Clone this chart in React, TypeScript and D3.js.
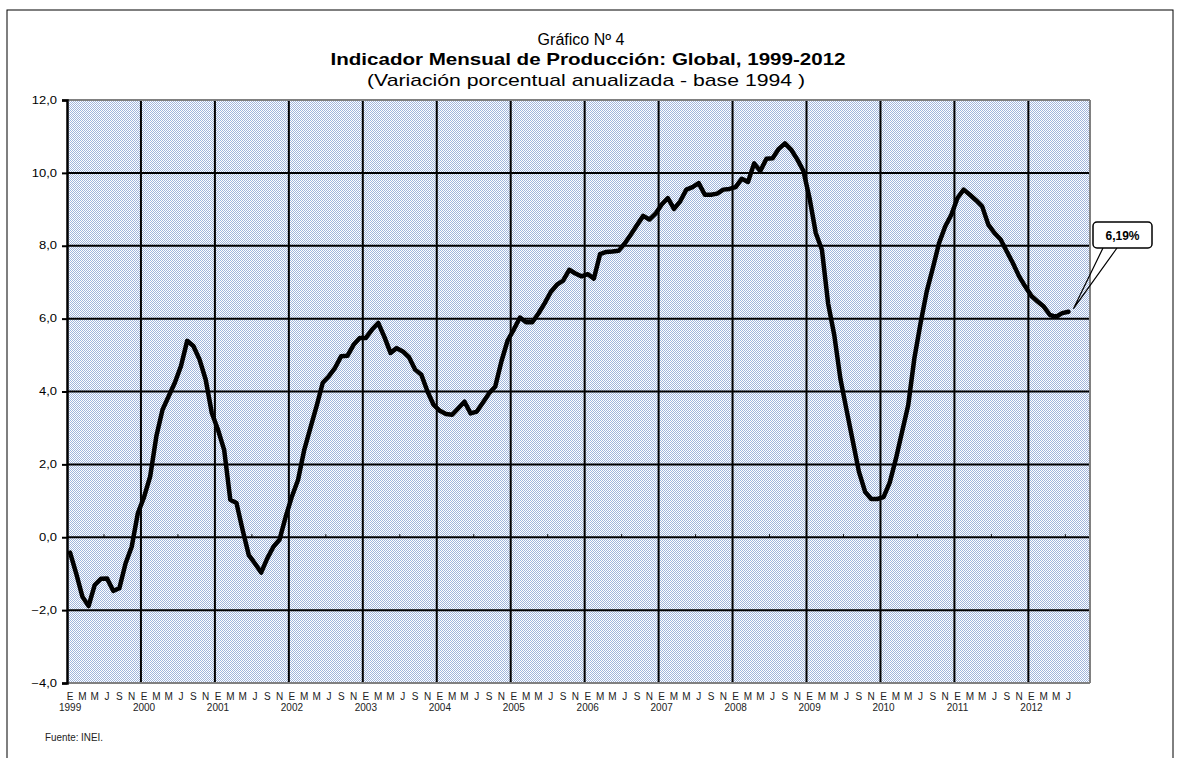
import React, { useEffect, useRef } from 'react';
import * as d3 from 'd3';

// Indicador Mensual de Producción (variación % anualizada), ene 1999 - jul 2012
const v1999 = [-0.42, -1.0, -1.63, -1.89, -1.31, -1.14, -1.13, -1.47, -1.4, -0.72, -0.26, 0.66];
const v2000 = [1.1, 1.67, 2.77, 3.5, 3.87, 4.24, 4.7, 5.39, 5.25, 4.88, 4.33, 3.41];
const v2001 = [2.95, 2.4, 1.03, 0.94, 0.2, -0.49, -0.72, -0.97, -0.58, -0.26, -0.06, 0.57];
const v2002 = [1.12, 1.58, 2.4, 3.0, 3.6, 4.24, 4.42, 4.65, 4.97, 4.98, 5.28, 5.47];
const v2003 = [5.47, 5.7, 5.88, 5.5, 5.06, 5.19, 5.1, 4.94, 4.6, 4.46, 4.0, 3.63];
const v2004 = [3.47, 3.38, 3.36, 3.54, 3.72, 3.4, 3.45, 3.7, 3.95, 4.14, 4.83, 5.4];
const v2005 = [5.7, 6.03, 5.9, 5.9, 6.14, 6.42, 6.73, 6.93, 7.04, 7.34, 7.24, 7.16];
const v2006 = [7.22, 7.1, 7.77, 7.83, 7.84, 7.86, 8.06, 8.31, 8.57, 8.82, 8.72, 8.88];
const v2007 = [9.13, 9.31, 9.01, 9.22, 9.54, 9.61, 9.72, 9.4, 9.4, 9.43, 9.54, 9.56];
const v2008 = [9.61, 9.84, 9.75, 10.26, 10.05, 10.39, 10.4, 10.66, 10.81, 10.64, 10.37, 10.05];
const v2009 = [9.3, 8.35, 7.89, 6.42, 5.55, 4.35, 3.49, 2.65, 1.8, 1.25, 1.05, 1.05];
const v2010 = [1.1, 1.5, 2.15, 2.89, 3.62, 4.91, 5.87, 6.74, 7.39, 8.07, 8.53, 8.85];
const v2011 = [9.31, 9.54, 9.4, 9.25, 9.08, 8.58, 8.35, 8.17, 7.84, 7.52, 7.16, 6.88];
const v2012 = [6.62, 6.47, 6.33, 6.1, 6.05, 6.15, 6.19];

const years = [1999, 2000, 2001, 2002, 2003, 2004, 2005, 2006, 2007, 2008, 2009, 2010, 2011, 2012];
const monthLetters = ['E', 'F', 'M', 'A', 'M', 'J', 'J', 'A', 'S', 'O', 'N', 'D'];
const yTicks = [-4, -2, 0, 2, 4, 6, 8, 10, 12];
const totalSlots = 166; // categorías del eje (incluye meses vacíos al final)
const lastLabel = '6,19%';

const series = [v1999, v2000, v2001, v2002, v2003, v2004, v2005, v2006, v2007, v2008, v2009, v2010, v2011, v2012].flat();

const W = 1181;
const H = 758;
const margin = { top: 100, right: 91, bottom: 75, left: 67 };

const App = () => {
    const svgRef = useRef(null);

    useEffect(() => {
        const svg = d3.select(svgRef.current);
        svg.selectAll('*').remove();

        const x = d3.scaleLinear().domain([0, totalSlots]).range([margin.left, W - margin.right]);
        const y = d3.scaleLinear().domain([-4, 12]).range([H - margin.bottom, margin.top]);
        const x0 = x(0), x1 = x(totalSlots), yTop = y(12), yBot = y(-4);

        // pattern del fondo (punteado azul)
        const defs = svg.append('defs');
        const pat = defs.append('pattern')
            .attr('id', 'dots').attr('width', 2).attr('height', 2)
            .attr('patternUnits', 'userSpaceOnUse');
        pat.append('rect').attr('width', 2).attr('height', 2).attr('fill', '#ffffff');
        pat.append('rect').attr('x', 0).attr('y', 0).attr('width', 1).attr('height', 1).attr('fill', '#9fb5dc');
        pat.append('rect').attr('x', 1).attr('y', 1).attr('width', 1).attr('height', 1).attr('fill', '#9fb5dc');

        // marco exterior
        svg.append('rect')
            .attr('x', 7).attr('y', 10).attr('width', 1166).attr('height', 760)
            .attr('fill', '#fff').attr('stroke', '#000').attr('stroke-width', 1);

        svg.append('rect')
            .attr('x', x0).attr('y', yTop).attr('width', x1 - x0).attr('height', yBot - yTop)
            .attr('fill', 'url(#dots)');

        // grilla horizontal
        svg.append('g').selectAll('line')
            .data(yTicks.filter(t => t > -4 && t < 12))
            .join('line')
            .attr('x1', x0).attr('x2', x1)
            .attr('y1', d => y(d)).attr('y2', d => y(d))
            .attr('stroke', '#000').attr('stroke-width', 2);

        // grilla vertical (inicio de cada año)
        svg.append('g').selectAll('line')
            .data(years.slice(1))
            .join('line')
            .attr('x1', (d, i) => x((i + 1) * 12)).attr('x2', (d, i) => x((i + 1) * 12))
            .attr('y1', yTop).attr('y2', yBot)
            .attr('stroke', '#000').attr('stroke-width', 2);

        // marcas pequeñas sobre la línea 0
        svg.append('g').selectAll('line')
            .data(years)
            .join('line')
            .attr('x1', (d, i) => x(i * 12 + 6)).attr('x2', (d, i) => x(i * 12 + 6))
            .attr('y1', y(0) - 3).attr('y2', y(0))
            .attr('stroke', '#000').attr('stroke-width', 1);

        // bordes del área
        svg.append('line').attr('x1', x0).attr('x2', x1).attr('y1', yTop).attr('y2', yTop)
            .attr('stroke', '#808080').attr('stroke-width', 2);
        svg.append('line').attr('x1', x0).attr('x2', x1).attr('y1', yBot).attr('y2', yBot)
            .attr('stroke', '#808080').attr('stroke-width', 2);
        svg.append('line').attr('x1', x1).attr('x2', x1).attr('y1', yTop).attr('y2', yBot)
            .attr('stroke', '#808080').attr('stroke-width', 2);

        // eje Y (texto ensanchado como en el original)
        const stretch = 1.3;
        const yAxis = svg.append('g')
            .attr('transform', `translate(${x0},0)`)
            .call(d3.axisLeft(y).tickValues(yTicks).tickSize(5).tickPadding(10)
                .tickFormat(d => d3.format('.1f')(d).replace('.', ',')));
        yAxis.select('.domain').attr('stroke', '#000').attr('stroke-width', 2.5);
        yAxis.selectAll('.tick line').attr('stroke', '#000').attr('stroke-width', 2);
        yAxis.selectAll('text')
            .attr('x', -10 / stretch)
            .attr('transform', `scale(${stretch},1)`)
            .attr('font-family', 'Liberation Sans, Arial, sans-serif')
            .attr('font-size', 10).attr('fill', '#000');

        // serie
        const line = d3.line<number>()
            .x((d, i) => x(i + 0.5))
            .y(d => y(d));
        svg.append('path')
            .datum(series)
            .attr('d', line)
            .attr('fill', 'none')
            .attr('stroke', '#000')
            .attr('stroke-width', 4.5)
            .attr('stroke-linejoin', 'round')
            .attr('stroke-linecap', 'round');

        // etiquetas de meses y años
        const labelFont = "'Liberation Sans Narrow', 'Liberation Sans', Arial, sans-serif";
        const monthIdx = d3.range(series.length).filter(i => i % 2 === 0);
        svg.append('g').selectAll('text')
            .data(monthIdx)
            .join('text')
            .attr('x', d => x(d + 0.5))
            .attr('y', yBot + 17)
            .attr('text-anchor', 'middle')
            .attr('font-family', labelFont)
            .attr('font-size', 10)
            .attr('fill', '#222')
            .text(d => monthLetters[d % 12]);
        svg.append('g').selectAll('text')
            .data(years)
            .join('text')
            .attr('x', (d, i) => x(i * 12 + 0.5))
            .attr('y', yBot + 28)
            .attr('text-anchor', 'middle')
            .attr('font-family', labelFont)
            .attr('font-size', 10)
            .attr('fill', '#222')
            .text(d => d);

        // títulos
        const tFont = 'Liberation Sans, Arial, sans-serif';
        svg.append('text').attr('x', 581).attr('y', 45).attr('text-anchor', 'middle')
            .attr('font-family', tFont).attr('font-size', 16)
            .text('Gráfico Nº 4');
        svg.append('text').attr('x', 588).attr('y', 65).attr('text-anchor', 'middle')
            .attr('font-family', tFont).attr('font-size', 17).attr('font-weight', 'bold')
            .attr('textLength', 515).attr('lengthAdjust', 'spacingAndGlyphs')
            .text('Indicador Mensual de Producción: Global, 1999-2012');
        svg.append('text').attr('x', 586).attr('y', 86).attr('text-anchor', 'middle')
            .attr('font-family', tFont).attr('font-size', 17)
            .attr('textLength', 438).attr('lengthAdjust', 'spacingAndGlyphs')
            .text('(Variación porcentual anualizada - base 1994 )');

        // fuente
        svg.append('text').attr('x', 45).attr('y', 741)
            .attr('font-family', labelFont).attr('font-size', 10).attr('fill', '#222')
            .attr('textLength', 58).attr('lengthAdjust', 'spacingAndGlyphs')
            .text('Fuente: INEI.');

        // llamada con el último valor
        const last = series.length - 1;
        const tipX = x(last + 0.5) + 5, tipY = y(series[last]) - 3;
        const bx = 1093, by = 222, bw = 59, bh = 26;
        svg.append('path')
            .attr('d', `M${bx + 10},${by + bh} L${tipX},${tipY} L${bx + 24},${by + bh}`)
            .attr('fill', 'none').attr('stroke', '#000').attr('stroke-width', 1.2);
        svg.append('rect')
            .attr('x', bx).attr('y', by).attr('width', bw).attr('height', bh)
            .attr('rx', 4).attr('fill', '#fff').attr('stroke', '#000').attr('stroke-width', 1.5);
        svg.append('text').attr('x', bx + bw / 2).attr('y', by + 18).attr('text-anchor', 'middle')
            .attr('font-family', tFont).attr('font-size', 12).attr('font-weight', 'bold')
            .text(lastLabel);
    }, []);

    return (
        <svg ref={svgRef} width={W} height={H}
            style={{ position: 'absolute', left: 0, top: 0, background: '#fff' }} />
    );
};

export default App;
